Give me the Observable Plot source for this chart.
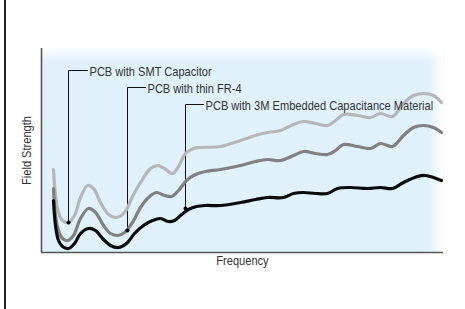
<!DOCTYPE html>
<html>
<head>
<meta charset="utf-8">
<script src="https://cdn.jsdelivr.net/npm/d3@7"></script>
<script src="https://cdn.jsdelivr.net/npm/@observablehq/plot@0.6"></script>
<style>
  html, body { margin: 0; padding: 0; background: #fff; }
  #wrap { position: relative; width: 465px; height: 309px; overflow: hidden; }
  #edge { position: absolute; left: 4px; top: 0; width: 2px; height: 309px; background: #222; }
  svg { display: block; }
</style>
</head>
<body>
<div id="wrap"><div id="edge"></div></div>
<script>
// Frequency / field strength in arbitrary units
const smtFreq  = [12,14,17,21,27,33,39,46,52,59,67,75,83,91,99,109,116,123,131,137,144,152,159,179,199,214,226,239,252,262,274,286,294,302,316,329,339,351,362,372,382,392,400];
const smtField = [83,57,40,32,30,37,55,67,64,50,38,35,40,56,70,84,87,84,79,86,99,104,105,106,112,117,120,122,128,131,129,127,132,138,137,135,139,136,149,157,159,157,150];

const fr4Freq  = [12,14,17,21,26,32,39,47,54,62,69,76,83,91,99,107,115,123,130,137,145,154,164,179,199,214,226,239,252,262,274,286,294,302,316,329,339,351,362,372,382,392,400];
const fr4Field = [64,37,22,14,12,17,34,44,40,27,19,17,20,30,45,55,60,57,56,62,72,78,81,83,87,91,93,92,97,101,99,98,102,108,106,104,109,106,117,125,127,125,120];

const ecmFreq  = [12,14,17,21,27,33,39,47,54,62,69,77,85,93,102,111,119,127,133,139,147,155,164,179,199,214,226,242,252,262,274,286,296,309,326,339,351,362,376,384,392,400];
const ecmField = [52,27,12,6,4,9,19,24,22,13,7,5,9,19,27,32,34,31,32,37,43,46,47,47,50,53,55,55,59,60,59,59,64,65,64,65,64,70,76,77,75,72];

const seriesNames = ["PCB with SMT Capacitor", "PCB with thin FR-4", "PCB with 3M Embedded Capacitance Material"];
const seriesColors = ["#b6b6b6", "#808080", "#0a0a0a"];

// Annotation anchors (frequency, field) and the level of each label
const labelFreq  = [27, 86, 144];
const labelField = [30, 22, 44];
const labelLevel = [182, 165, 148];
const labelGap   = [19, 18, 18];

const axisX = "Frequency";
const axisY = "Field Strength";

const rows = [];
[[smtFreq, smtField], [fr4Freq, fr4Field], [ecmFreq, ecmField]].forEach(([fx, fy], i) => {
  fx.forEach((f, j) => rows.push({series: seriesNames[i], f, v: fy[j]}));
});

const leaders = [];
seriesNames.forEach((name, i) => {
  leaders.push({id: i, f: labelFreq[i], v: labelField[i]});
  leaders.push({id: i, f: labelFreq[i], v: labelLevel[i]});
  leaders.push({id: i, f: labelFreq[i] + labelGap[i], v: labelLevel[i]});
});
const labels = seriesNames.map((name, i) => ({text: name, f: labelFreq[i] + labelGap[i], v: labelLevel[i]}));
const anchors = seriesNames.map((name, i) => ({f: labelFreq[i], v: labelField[i]}));

const font = "'Liberation Sans', Arial, sans-serif";
const squeeze = 0.82; // condensed look

const chart = Plot.plot({
  width: 465,
  height: 309,
  marginLeft: 41,
  marginRight: 22,
  marginTop: 48,
  marginBottom: 57,
  x: {domain: [0, 402], axis: null},
  y: {domain: [0, 204], axis: null},
  color: {domain: seriesNames, range: seriesColors},
  style: {fontFamily: font, background: "transparent"},
  marks: [
    Plot.frame({fill: "#e0f1fb", stroke: null}),
    Plot.frame({fill: "url(#fadeR)", stroke: null}),
    Plot.frame({fill: "url(#fadeT)", stroke: null}),
    Plot.ruleX([0], {stroke: "#555", strokeWidth: 1.6}),
    Plot.ruleY([0], {stroke: "#555", strokeWidth: 1.6}),
    Plot.line(leaders, {x: "f", y: "v", z: "id", stroke: "#111", strokeWidth: 1}),
    Plot.line(rows, {x: "f", y: "v", z: "series", stroke: "series", strokeWidth: 3.2, curve: "catmull-rom"}),
    Plot.dot(anchors, {x: "f", y: "v", r: 2, fill: "#000", stroke: null}),
    Plot.text(labels, {x: "f", y: "v", text: "text", textAnchor: "start", dx: 2, dy: 1, fontSize: 13.5, fill: "#333"}),
    Plot.text([axisY], {frameAnchor: "left", text: d => d, rotate: -90, textAnchor: "middle", dx: -15, fontSize: 13.5, fill: "#333"}),
    Plot.text([axisX], {frameAnchor: "bottom", text: d => d, textAnchor: "middle", dy: 12, fontSize: 13.5, fill: "#333"})
  ]
});

const ns = "http://www.w3.org/2000/svg";
const defs = document.createElementNS(ns, "defs");
defs.innerHTML = `
  <linearGradient id="fadeR" x1="0" y1="0" x2="1" y2="0">
    <stop offset="0.96" stop-color="#fff" stop-opacity="0"/>
    <stop offset="1" stop-color="#fff" stop-opacity="0.95"/>
  </linearGradient>
  <linearGradient id="fadeT" x1="0" y1="0" x2="0" y2="1">
    <stop offset="0" stop-color="#fff" stop-opacity="0.95"/>
    <stop offset="0.06" stop-color="#fff" stop-opacity="0"/>
  </linearGradient>`;
chart.insertBefore(defs, chart.firstChild);
document.getElementById("wrap").appendChild(chart);

// horizontally condense every text (narrow-face look) without moving its anchor
chart.querySelectorAll("text").forEach(el => {
  const w = el.getComputedTextLength();
  if (w > 0) {
    el.setAttribute("textLength", (w * squeeze).toFixed(1));
    el.setAttribute("lengthAdjust", "spacingAndGlyphs");
  }
});
</script>
</body>
</html>
